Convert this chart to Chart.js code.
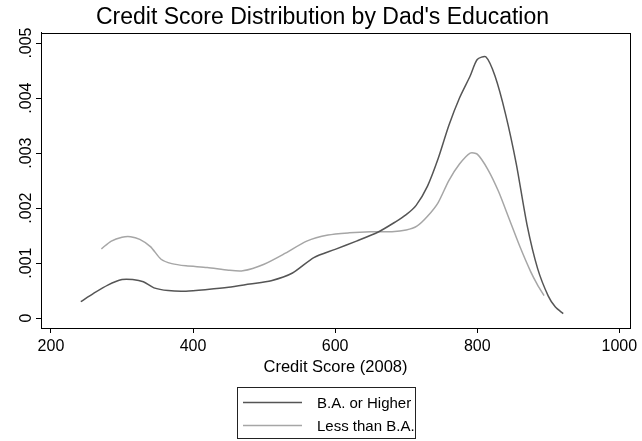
<!DOCTYPE html>
<html>
<head>
<meta charset="utf-8">
<script src="https://cdn.jsdelivr.net/npm/chart.js@4/dist/chart.umd.min.js"></script>
<style>
  html, body { margin: 0; padding: 0; background: #ffffff; }
  #wrap { width: 642px; height: 441px; }
</style>
</head>
<body>
<div id="wrap"><canvas id="chart" width="642" height="441"></canvas></div>
<script>
// Kernel density estimates of 2008 credit scores, split by father's education
const seriesNames = ['B.A. or Higher', 'Less than B.A.'];

const baScore   = [242, 260, 280, 300, 315, 330, 345, 365, 390, 420, 450, 480, 510, 540, 570, 600, 630, 660, 685, 700, 714, 730, 745, 760, 775, 790, 800, 812, 825, 840, 855, 870, 885, 900, 910, 921];
const baDensity = [0.0003, 0.00045, 0.0006, 0.0007, 0.0007, 0.00066, 0.00055, 0.0005, 0.00049, 0.00052, 0.00056, 0.00062, 0.00068, 0.00082, 0.0011, 0.00125, 0.0014, 0.00156, 0.00175, 0.00188, 0.00205, 0.0024, 0.0029, 0.0035, 0.004, 0.0044, 0.0047, 0.00475, 0.0044, 0.0037, 0.0028, 0.0017, 0.0009, 0.0004, 0.0002, 0.00008];

const lessScore   = [271, 285, 300, 312, 325, 340, 355, 370, 390, 420, 450, 470, 500, 530, 560, 590, 620, 650, 680, 700, 715, 730, 745, 760, 775, 790, 800, 815, 830, 845, 860, 875, 885, 894];
const lessDensity = [0.00126, 0.0014, 0.00147, 0.00148, 0.00143, 0.0013, 0.00107, 0.00099, 0.00095, 0.00092, 0.00087, 0.00086, 0.00098, 0.00118, 0.0014, 0.00151, 0.00155, 0.00157, 0.00157, 0.0016, 0.00167, 0.00185, 0.0021, 0.0025, 0.0028, 0.003, 0.00298, 0.0027, 0.0023, 0.0018, 0.0013, 0.00085, 0.0006, 0.00041];

const xTicks = [200, 400, 600, 800, 1000];
const xTickLabels = ['200', '400', '600', '800', '1000'];
const yTicks = [0, 0.001, 0.002, 0.003, 0.004, 0.005];
const yTickLabels = ['0', '.001', '.002', '.003', '.004', '.005'];

const FONT = 'Arial, "Liberation Sans", Helvetica, sans-serif';
const DARK = '#555555';
const LIGHT = '#a6a6a6';

function toPoints(xs, ys) {
  return xs.map((x, i) => ({ x: x, y: ys[i] }));
}

// Outline around the plot region
const framePlugin = {
  id: 'plotFrame',
  afterDraw(chart) {
    const a = chart.chartArea;
    const ctx = chart.ctx;
    ctx.save();
    ctx.strokeStyle = '#000';
    ctx.lineWidth = 1;
    ctx.strokeRect(Math.round(a.left) + 0.5, Math.round(a.top) + 0.5,
                   Math.round(a.right - a.left), Math.round(a.bottom - a.top));
    ctx.restore();
  }
};

// Boxed legend with one entry per row, below the axis title
const boxLegendPlugin = {
  id: 'boxLegend',
  afterDraw(chart) {
    const ctx = chart.ctx;
    const boxW = 178, boxH = 51;
    const left = Math.round(chart.width / 2 - boxW / 2 + 5);
    const top = chart.height - 54;
    ctx.save();
    ctx.strokeStyle = '#222';
    ctx.lineWidth = 1;
    ctx.strokeRect(left + 0.5, top + 0.5, boxW, boxH);
    ctx.font = '15px ' + FONT;
    ctx.textBaseline = 'middle';
    ctx.fillStyle = '#000';
    chart.data.datasets.forEach((ds, i) => {
      const y = top + 15.5 + i * 23;
      ctx.strokeStyle = ds.borderColor;
      ctx.lineWidth = ds.borderWidth;
      ctx.beginPath();
      ctx.moveTo(left + 6, y);
      ctx.lineTo(left + 65, y);
      ctx.stroke();
      ctx.fillText(ds.label, left + 80, y + 1);
    });
    ctx.restore();
  }
};

new Chart(document.getElementById('chart'), {
  type: 'line',
  data: {
    datasets: [
      {
        label: seriesNames[0],
        data: toPoints(baScore, baDensity),
        borderColor: DARK,
        borderWidth: 1.5,
        pointRadius: 0,
        tension: 0.25,
        fill: false
      },
      {
        label: seriesNames[1],
        data: toPoints(lessScore, lessDensity),
        borderColor: LIGHT,
        borderWidth: 1.5,
        pointRadius: 0,
        tension: 0.25,
        fill: false
      }
    ]
  },
  options: {
    responsive: false,
    animation: false,
    devicePixelRatio: 1,
    layout: { padding: { left: 15, right: 12, top: 0, bottom: 64 } },
    plugins: {
      legend: { display: false },
      tooltip: { enabled: false },
      title: {
        display: true,
        text: "Credit Score Distribution by Dad's Education",
        color: '#000',
        font: { family: FONT, size: 23, weight: 'normal' },
        padding: { top: 4, bottom: 1 }
      }
    },
    scales: {
      x: {
        type: 'linear',
        min: 186,
        max: 1015,
        afterBuildTicks(scale) { scale.ticks = xTicks.map(v => ({ value: v })); },
        ticks: {
          color: '#000',
          font: { family: FONT, size: 16 },
          padding: 4,
          maxRotation: 0,
          autoSkip: false,
          callback: (v, i) => xTickLabels[i]
        },
        grid: { drawOnChartArea: false, drawTicks: true, tickLength: 5, tickColor: '#000', tickWidth: 1 },
        border: { display: true, color: '#000', width: 1 },
        title: {
          display: true,
          text: 'Credit Score (2008)',
          color: '#000',
          font: { family: FONT, size: 16.5 },
          padding: { top: -3, bottom: 0 }
        }
      },
      y: {
        type: 'linear',
        min: -0.00018,
        max: 0.00519,
        afterBuildTicks(scale) { scale.ticks = yTicks.map(v => ({ value: v })); },
        afterFit(scale) { scale.width = 26; },
        ticks: {
          color: '#000',
          font: { family: FONT, size: 16 },
          minRotation: 90,
          maxRotation: 90,
          crossAlign: 'center',
          padding: -6,
          autoSkip: false,
          callback: (v, i) => yTickLabels[i]
        },
        grid: { drawOnChartArea: false, drawTicks: true, tickLength: 5, tickColor: '#000', tickWidth: 1 },
        border: { display: true, color: '#000', width: 1 }
      }
    }
  },
  plugins: [framePlugin, boxLegendPlugin]
});
</script>
</body>
</html>
